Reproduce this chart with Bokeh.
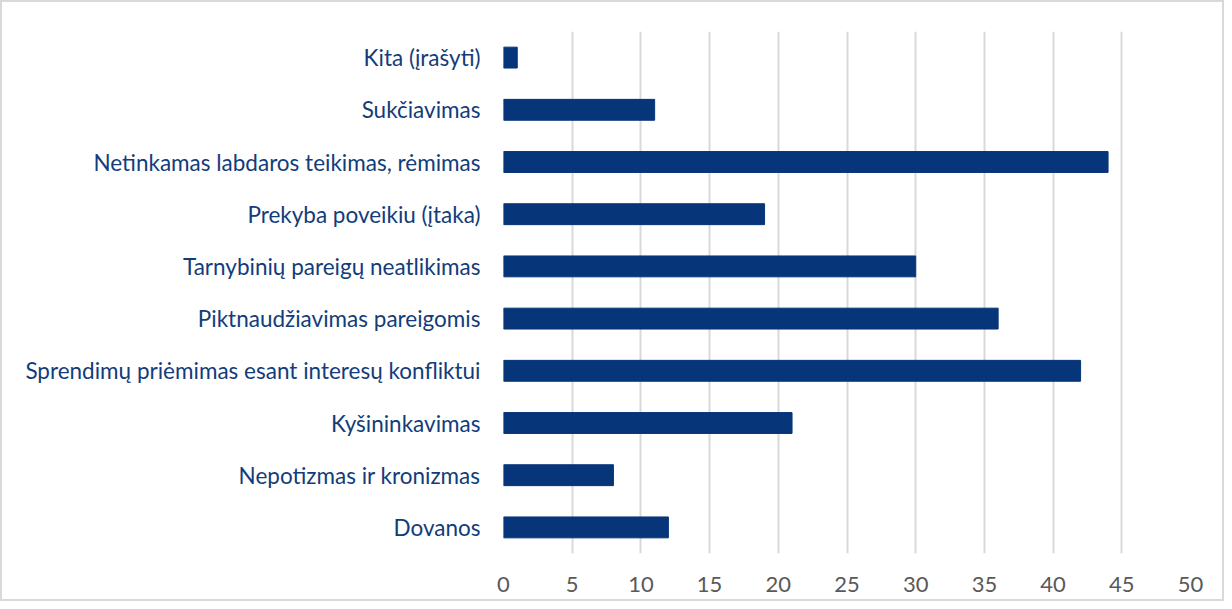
from bokeh.plotting import figure
from bokeh.models import FactorRange, Range1d, FixedTicker
from bokeh.embed import file_html
from bokeh.resources import INLINE

categories = [
    "Dovanos",
    "Nepotizmas ir kronizmas",
    "Kyšininkavimas",
    "Sprendimų priėmimas esant interesų konfliktui",
    "Piktnaudžiavimas pareigomis",
    "Tarnybinių pareigų neatlikimas",
    "Prekyba poveikiu (įtaka)",
    "Netinkamas labdaros teikimas, rėmimas",
    "Sukčiavimas",
    "Kita (įrašyti)",
]
values = [12, 8, 21, 42, 36, 30, 19, 44, 11, 1]
x_ticks = [0, 5, 10, 15, 20, 25, 30, 35, 40, 45, 50]

p = figure(
    width=1224, height=601,
    y_range=FactorRange(factors=categories, range_padding=0),
    x_range=Range1d(0, 50),
    output_backend="svg", toolbar_location=None,
    min_border_left=501, min_border_right=36, min_border_top=29, min_border_bottom=50,
)
p.hbar(y=categories, right=values, left=0, height=0.4, color="#063579")

p.outline_line_color = None
p.ygrid.grid_line_color = None
p.xgrid.grid_line_color = "#d9d9d9"
p.xgrid.grid_line_width = 2
p.xaxis.ticker = FixedTicker(ticks=x_ticks)

p.xaxis.axis_line_color = None
p.xaxis.major_tick_line_color = None
p.xaxis.minor_tick_line_color = None
p.xaxis.major_label_text_font = "Lato"
p.xaxis.major_label_text_font_size = "22px"
p.xaxis.major_label_text_color = "#595959"
p.xaxis.major_label_standoff = 17

p.yaxis.axis_line_color = None
p.yaxis.major_tick_line_color = None
p.yaxis.minor_tick_line_color = None
p.yaxis.major_label_text_font = "Lato"
p.yaxis.major_label_text_font_size = "22.5px"
p.yaxis.major_label_text_color = "#123c7a"
p.yaxis.major_label_standoff = 17

p.styles = {"border": "2px solid #d9d9d9", "box-sizing": "border-box"}

open("out.html", "w").write(file_html(p, INLINE))
